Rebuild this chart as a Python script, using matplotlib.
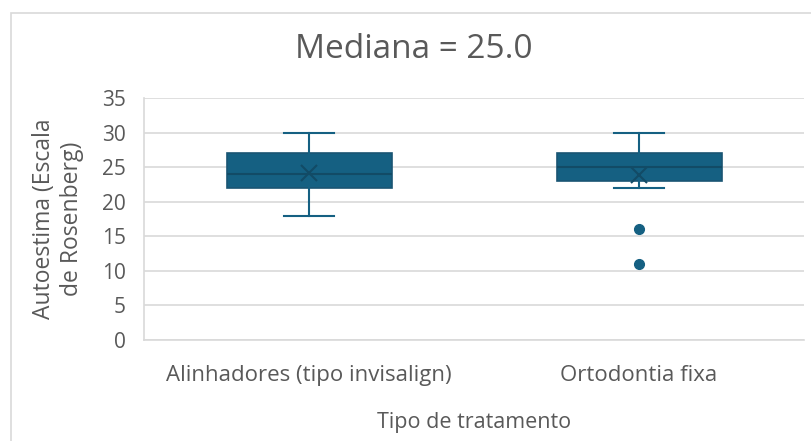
import matplotlib
matplotlib.use("Agg")
import matplotlib.pyplot as plt
from matplotlib.patches import Rectangle

# --- data ---
categories = ["Alinhadores (tipo invisalign)", "Ortodontia fixa"]
whisker_low = [18, 22]
q1 = [22, 23]
median = [24, 25]
q3 = [27, 27]
whisker_high = [30, 30]
means = [24.2, 23.85]
outliers = [[], [16, 11]]

FILL = "#156082"
EDGE = "#1A5573"
TXT = "#595959"
GRID = "#D9D9D9"

plt.rcParams["font.family"] = ["Open Sans", "DejaVu Sans"]

fig = plt.figure(figsize=(8.11, 4.41), dpi=100)
ax = fig.add_axes([144 / 811, 1 - 340 / 441, 660 / 811, 242 / 441])

# chart frame (extends past right/bottom edges as in the reference)
fig.patches.append(Rectangle((11 / 811, -0.1), 1.2, 1.1 - 13 / 441, transform=fig.transFigure,
                             fill=False, ec=GRID, lw=1.2, zorder=0))

stats = []
for i in range(len(categories)):
    stats.append(dict(label=categories[i], whislo=whisker_low[i], q1=q1[i], med=median[i],
                      q3=q3[i], whishi=whisker_high[i], mean=means[i], fliers=outliers[i]))

ax.bxp(stats, positions=[1, 2], widths=0.5, capwidths=0.15, showmeans=True, patch_artist=True,
       boxprops=dict(facecolor=FILL, edgecolor=EDGE, lw=1.2),
       medianprops=dict(color="#124B66", lw=1.5),
       whiskerprops=dict(color=FILL, lw=1.5),
       capprops=dict(color=FILL, lw=1.5),
       meanprops=dict(marker="x", markersize=12, markeredgecolor="#124B66", markeredgewidth=1.5),
       flierprops=dict(marker="o", markersize=7, markerfacecolor=FILL, markeredgecolor=FILL),
       zorder=3)

ax.set_xlim(0.5, 2.5)
ax.set_ylim(0, 35)
ax.set_yticks(range(0, 36, 5))
ax.yaxis.grid(True, color=GRID, lw=1.2, zorder=0)
ax.set_axisbelow(True)
for s in ["top", "right"]:
    ax.spines[s].set_visible(False)
for s in ["left", "bottom"]:
    ax.spines[s].set_color(GRID)
    ax.spines[s].set_linewidth(1.2)
ax.tick_params(length=0, labelcolor=TXT)
ax.tick_params(axis="y", labelsize=15, pad=13)
ax.tick_params(axis="x", labelsize=16, pad=18)

ax.set_xlabel("Tipo de tratamento", fontsize=15.5, color=TXT, labelpad=19)
ax.set_ylabel("Autoestima (Escala\nde Rosenberg)", fontsize=16.5, color=TXT, labelpad=13,
              linespacing=1.2)
fig.text(414 / 811, 1 - 50 / 441, "Mediana = 25.0", fontsize=24, color=TXT,
         ha="center", va="center")

fig.savefig("out.png", dpi=100)
